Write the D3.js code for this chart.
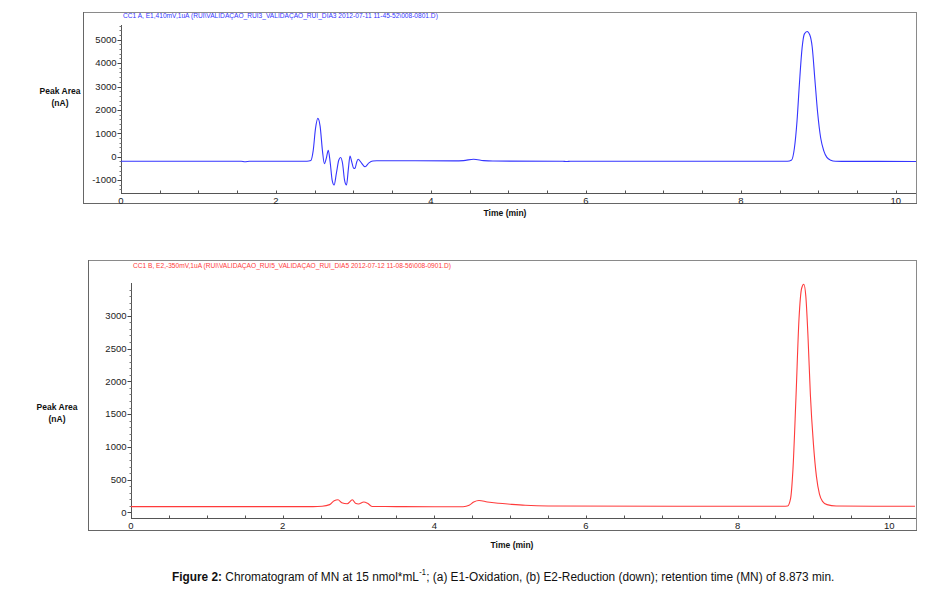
<!DOCTYPE html>
<html><head><meta charset="utf-8">
<script src="https://cdn.jsdelivr.net/npm/d3@7"></script>
<style>
body{margin:0;background:#fff;}
svg{display:block;font-family:"Liberation Sans",Arial,sans-serif;}
</style></head>
<body>
<svg id="c" width="946" height="591"></svg>
<script>
// ---- data ----
const topTitle = "CC1 A, E1,410mV,1uA (RUI\\VALIDAÇAO_RUI3_VALIDAÇAO_RUI_DIA3 2012-07-11 11-45-52\\008-0801.D)";
const botTitle = "CC1 B, E2,-350mV,1uA (RUI\\VALIDAÇAO_RUI5_VALIDAÇAO_RUI_DIA5 2012-07-12 11-08-56\\008-0901.D)";
const xTickLabels = [0, 2, 4, 6, 8, 10];
const topYTicks = [-1000, 0, 1000, 2000, 3000, 4000, 5000];
const botYTicks = [0, 500, 1000, 1500, 2000, 2500, 3000];

const topTime = [0, 1.55, 1.6, 1.66, 2.4, 2.45, 2.48, 2.51, 2.54, 2.57, 2.6, 2.625, 2.65, 2.675, 2.7, 2.725, 2.75, 2.78, 2.81, 2.835, 2.86, 2.885, 2.91, 2.935, 2.955, 2.98, 3.0, 3.02, 3.04, 3.06, 3.1, 3.15, 3.2, 3.25, 3.3, 4.3, 4.42, 4.55, 4.68, 4.8, 5.7, 5.75, 5.8, 8.55, 8.6, 8.655, 8.69, 8.725, 8.755, 8.79, 8.82, 8.855, 8.89, 8.92, 8.955, 8.99, 9.03, 9.07, 9.11, 9.16, 9.22, 9.3, 9.7, 10.26];
const topSignal = [-190, -190, -215, -190, -190, -160, 250, 1200, 1640, 1300, 250, -300, -60, 280, -250, -1000, -1210, -700, -150, -30, -300, -1000, -1210, -500, 30, -250, -480, -500, -250, -110, -250, -430, -260, -180, -170, -175, -165, -105, -165, -185, -190, -205, -190, -195, -195, -140, 350, 1550, 3100, 4650, 5250, 5350, 5200, 4700, 3300, 1900, 800, 250, -30, -150, -195, -200, -200, -205];

const botTime = [0, 2.4, 2.52, 2.62, 2.68, 2.73, 2.78, 2.85, 2.92, 2.96, 3.0, 3.07, 3.12, 3.18, 3.5, 4.0, 4.38, 4.46, 4.52, 4.59, 4.7, 4.85, 5.0, 5.2, 5.5, 8.6, 8.66, 8.7, 8.73, 8.77, 8.81, 8.845, 8.873, 8.9, 8.93, 8.96, 9.0, 9.04, 9.08, 9.12, 9.18, 9.3, 9.8, 10.34];
const botSignal = [90, 90, 95, 120, 180, 194, 150, 133, 194, 140, 130, 160, 140, 92, 90, 88, 88, 110, 160, 183, 160, 140, 126, 110, 100, 95, 100, 220, 650, 1750, 2950, 3420, 3480, 3300, 2650, 1800, 1050, 550, 280, 170, 120, 100, 95, 95];

const captionParts = [
  {text:"Figure 2:", bold:true, sup:false},
  {text:" Chromatogram of MN at 15 nmol*mL", bold:false, sup:false},
  {text:"-1", bold:false, sup:true},
  {text:"; (a) E1-Oxidation, (b) E2-Reduction (down); retention time (MN) of 8.873 min.", bold:false, sup:false}
];

const svg = d3.select("#c");

function panel(o){
  const g = svg.append("g");
  g.append("rect").attr("x", o.box[0]+0.5).attr("y", o.box[1]+0.5)
    .attr("width", o.box[2]-o.box[0]).attr("height", o.box[3]-o.box[1])
    .attr("fill","none").attr("stroke","#8a8a8a").attr("stroke-width",1);
  g.append("line").attr("x1",o.box[0]+0.5).attr("x2",o.box[0]+0.5).attr("y1",o.box[1]).attr("y2",o.box[3]+1).attr("stroke","#666");
  g.append("line").attr("x1",o.box[0]).attr("x2",o.box[2]+1).attr("y1",o.box[3]+0.5).attr("y2",o.box[3]+0.5).attr("stroke","#666");

  const x = d3.scaleLinear().domain(o.xDom).range(o.xRange);
  const y = d3.scaleLinear().domain(o.yDom).range(o.yRange);

  g.append("text").attr("x", o.titlePos[0]).attr("y", o.titlePos[1])
    .attr("font-size", 6.6).attr("fill", o.color).text(o.title);

  const ya = g.append("g").attr("transform", `translate(${o.xRange[0]+0.5},0)`);
  ya.append("line").attr("y1", o.yRange[1]).attr("y2", o.yRange[0]).attr("stroke","#555");
  const minor = d3.range(Math.ceil(o.yDom[0]/o.minorStep)*o.minorStep, o.yDom[1], o.minorStep);
  ya.selectAll("line.mn").data(minor).join("line").attr("class","mn")
    .attr("x1",-2).attr("x2",0).attr("y1",d=>Math.round(y(d))+0.5).attr("y2",d=>Math.round(y(d))+0.5).attr("stroke","#777");
  ya.selectAll("line.mj").data(o.yTicks).join("line").attr("class","mj")
    .attr("x1",-4).attr("x2",0).attr("y1",d=>Math.round(y(d))+0.5).attr("y2",d=>Math.round(y(d))+0.5).attr("stroke","#444");
  ya.selectAll("text").data(o.yTicks).join("text")
    .attr("x",-5).attr("y",d=>y(d)).attr("dy","0.35em").attr("text-anchor","end")
    .attr("font-size",9.5).attr("fill","#222").text(d=>d);

  const xa = g.append("g").attr("transform", `translate(0,${o.xAxisY+0.5})`);
  xa.append("line").attr("x1", o.xRange[0]).attr("x2", o.box[2]).attr("stroke","#555");
  const xm = d3.range(0, o.xDom[1], 0.5);
  xa.selectAll("line.t").data(xm).join("line").attr("class","t")
    .attr("x1",d=>Math.round(x(d))+0.5).attr("x2",d=>Math.round(x(d))+0.5).attr("y1",-3).attr("y2",0).attr("stroke","#555");
  xa.selectAll("text").data(xTickLabels).join("text")
    .attr("x",d=>x(d)).attr("y",10).attr("text-anchor","middle")
    .attr("font-size",9.5).attr("fill","#222").text(d=>d);

  g.append("text").attr("x",o.xTitle[0]).attr("y",o.xTitle[1]).attr("text-anchor","middle")
    .attr("font-size",8.5).attr("font-weight","bold").attr("fill","#111").text("Time (min)");
  const yt = g.append("text").attr("text-anchor","middle").attr("font-size",8.5).attr("font-weight","bold").attr("fill","#111");
  yt.append("tspan").attr("x",o.yTitle[0]).attr("y",o.yTitle[1]).text("Peak Area");
  yt.append("tspan").attr("x",o.yTitle[0]).attr("y",o.yTitle[1]+12).text("(nA)");

  const pts = o.t.map((t,i)=>[t,o.v[i]]);
  const line = d3.line().x(d=>x(d[0])).y(d=>y(d[1])).curve(d3.curveMonotoneX);
  g.append("path").datum(pts).attr("d",line).attr("fill","none")
    .attr("stroke",o.color).attr("stroke-width",1.1);
}

panel({
  box:[83,12,916,203], xDom:[0,10.26], xRange:[121,916], yDom:[-1550,5630], yRange:[193,25],
  xAxisY:193, yTicks:topYTicks, minorStep:200, color:"#3535ff", title:topTitle, titlePos:[123,18],
  xTitle:[505,216], yTitle:[60,94], t:topTime, v:topSignal
});
panel({
  box:[88,260,916,530], xDom:[0,10.34], xRange:[131,915], yDom:[-84,3500], yRange:[518,283],
  xAxisY:518, yTicks:botYTicks, minorStep:100, color:"#ff3b3b", title:botTitle, titlePos:[133,268],
  xTitle:[512,548], yTitle:[57,410], t:botTime, v:botSignal
});

// caption: separate text pieces laid out one after another, then squeezed to the narrow width
const capOuter = svg.append("g");
const capG = capOuter.append("g");
let cx = 0;
captionParts.forEach(p => {
  const t = capG.append("text").attr("x", cx).attr("y", p.sup ? -6 : 0)
    .attr("font-size", p.sup ? 8.5 : 13.5)
    .attr("font-weight", p.bold ? "bold" : "normal")
    .attr("fill","#111").style("white-space","pre").text(p.text);
  cx += t.node().getComputedTextLength() + (p.sup ? 0.5 : 0);
});
const targetW = 663;
capOuter.attr("transform", `translate(172,581) scale(${targetW/cx},1)`);
</script>
</body></html>
